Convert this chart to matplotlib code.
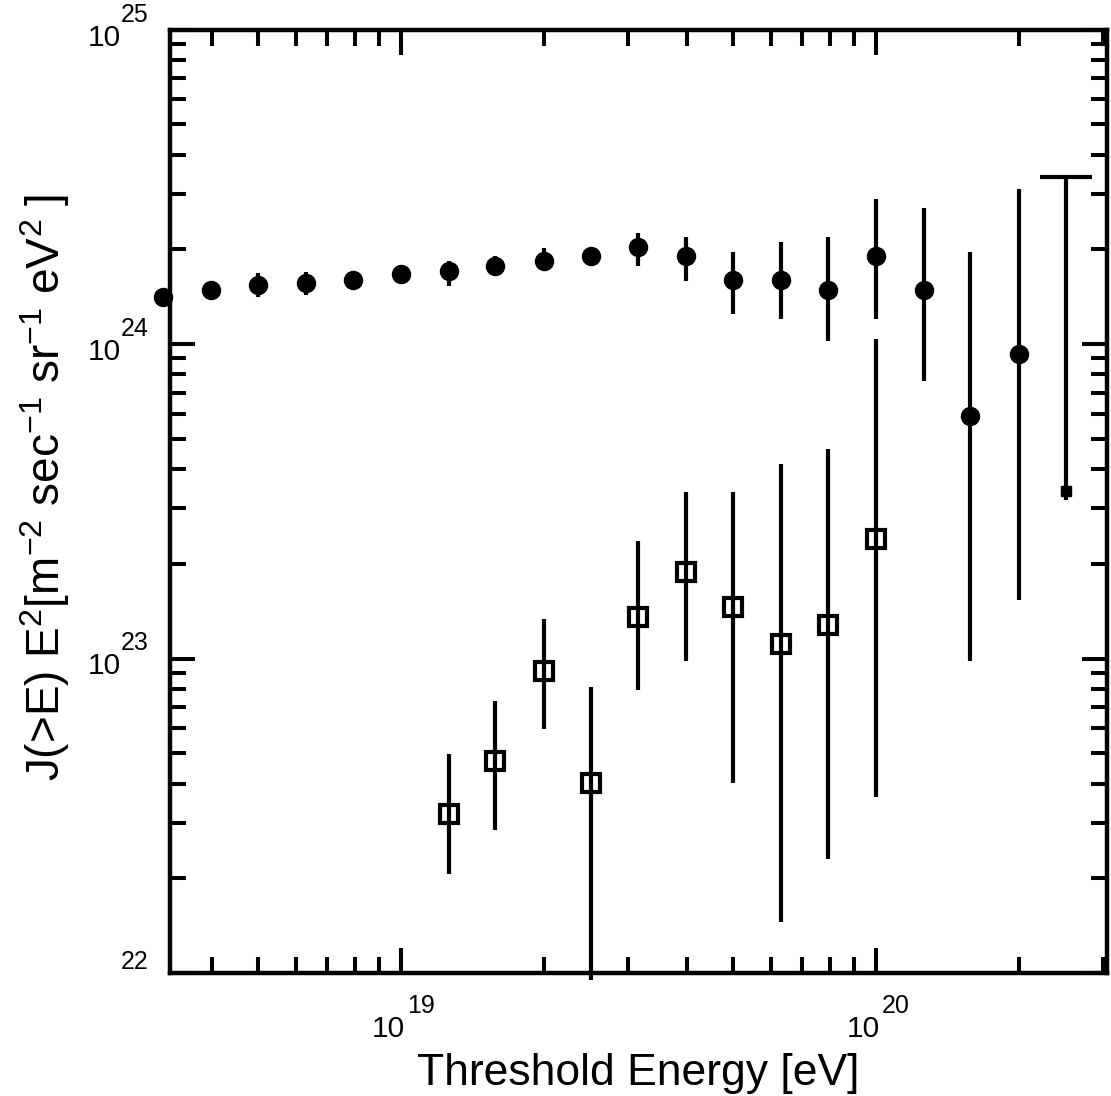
import numpy as np
import matplotlib
matplotlib.use("Agg")
import matplotlib.pyplot as plt
from matplotlib.ticker import LogLocator, NullFormatter

plt.rcParams["font.family"] = ["Liberation Sans", "DejaVu Sans"]
plt.rcParams["mathtext.default"] = "regular"

# Threshold energies [eV] of the integral-flux bins
energy = [3.16e18, 3.98e18, 5.01e18, 6.31e18, 7.94e18, 1.00e19, 1.26e19,
          1.58e19, 2.00e19, 2.51e19, 3.16e19, 3.98e19, 5.01e19, 6.31e19,
          7.94e19, 1.00e20, 1.26e20, 1.58e20, 2.00e20, 2.51e20]

# All events: J(>E) E^2 with lower / upper bounds
flux_all = [1.41e24, 1.48e24, 1.54e24, 1.56e24, 1.60e24, 1.67e24, 1.71e24,
            1.77e24, 1.83e24, 1.91e24, 2.03e24, 1.90e24, 1.60e24, 1.60e24,
            1.49e24, 1.90e24, 1.48e24, 5.90e23, 9.30e23, 3.40e23]
flux_all_lo = [1.36e24, 1.42e24, 1.41e24, 1.43e24, 1.53e24, 1.57e24, 1.53e24,
               1.65e24, 1.73e24, 1.79e24, 1.77e24, 1.59e24, 1.25e24, 1.20e24,
               1.02e24, 1.20e24, 7.60e23, 9.80e22, 1.54e23, 3.20e23]
flux_all_hi = [1.46e24, 1.54e24, 1.68e24, 1.70e24, 1.67e24, 1.78e24, 1.83e24,
               1.90e24, 2.02e24, 2.04e24, 2.26e24, 2.19e24, 1.96e24, 2.11e24,
               2.19e24, 2.90e24, 2.71e24, 1.96e24, 3.12e24, 3.40e24]

# Selected sub-sample
energy_sub = [1.26e19, 1.58e19, 2.00e19, 2.51e19, 3.16e19, 3.98e19, 5.01e19,
              6.31e19, 7.94e19, 1.00e20]
flux_sub = [3.21e22, 4.73e22, 9.11e22, 4.02e22, 1.36e23, 1.88e23, 1.46e23,
            1.11e23, 1.28e23, 2.39e23]
flux_sub_lo = [2.07e22, 2.84e22, 5.98e22, 9.5e21, 7.96e22, 9.80e22, 4.03e22,
               1.45e22, 2.31e22, 3.64e22]
flux_sub_hi = [4.98e22, 7.35e22, 1.34e23, 8.14e22, 2.36e23, 3.38e23, 3.38e23,
               4.15e23, 4.63e23, 1.04e24]

# Decade tick labels (base "10" and exponent drawn as separate texts)
x_decades = [19, 20]
y_decades = [22, 23, 24, 25]


def asym_err(vals, lo, hi):
    v = np.asarray(vals)
    return [v - np.asarray(lo), np.asarray(hi) - v]


fig = plt.figure(figsize=(11.11, 10.96), dpi=100)
ax = fig.add_axes([170 / 1111, 1 - 973 / 1096, 937 / 1111, 943.5 / 1096])
ax.set_xscale("log")
ax.set_yscale("log")
ax.set_xlim(3.265e18, 3.064e20)
ax.set_ylim(1e22, 1e25)

n = len(energy) - 1
ax.errorbar(energy[:n], flux_all[:n],
            yerr=asym_err(flux_all[:n], flux_all_lo[:n], flux_all_hi[:n]),
            fmt="o", color="black", ms=13, elinewidth=3, capsize=0,
            clip_on=False, zorder=3)

# highest-energy bin: small marker, capped upper bound
ax.errorbar(energy[n:], flux_all[n:],
            yerr=asym_err(flux_all[n:], flux_all_lo[n:], flux_all_hi[n:]),
            fmt="s", color="black", ms=7, elinewidth=3, capsize=0,
            clip_on=False, zorder=3)
ax.plot(energy[n:], flux_all_hi[n:], marker="_", ms=38, mew=3,
        color="black", linestyle="none", zorder=3)

ax.errorbar(energy_sub, flux_sub,
            yerr=asym_err(flux_sub, flux_sub_lo, flux_sub_hi),
            fmt="s", mfc="none", mec="black", ecolor="black", ms=13, mew=3,
            elinewidth=3, capsize=0, clip_on=False, zorder=3)

# axes styling
for s in ax.spines.values():
    s.set_linewidth(3.2)

ax.xaxis.set_major_locator(LogLocator(base=10, numticks=10))
ax.xaxis.set_minor_locator(LogLocator(base=10, subs=np.arange(2, 10), numticks=20))
ax.yaxis.set_major_locator(LogLocator(base=10, numticks=10))
ax.yaxis.set_minor_locator(LogLocator(base=10, subs=np.arange(2, 10), numticks=20))
for axis in (ax.xaxis, ax.yaxis):
    axis.set_major_formatter(NullFormatter())
    axis.set_minor_formatter(NullFormatter())

ax.tick_params(which="both", direction="in", top=True, right=True, width=2.9)
ax.tick_params(which="major", length=18)
ax.tick_params(which="minor", length=11.5)

lab_size = 21.5
exp_size = 18
xtr = ax.get_xaxis_transform()
ytr = ax.get_yaxis_transform()
for e in x_decades:
    ax.annotate("10", xy=(10.0 ** e, 0), xycoords=xtr, xytext=(4, -56),
                textcoords="offset pixels", ha="right", va="center",
                fontsize=lab_size, annotation_clip=False)
    ax.annotate(str(e), xy=(10.0 ** e, 0), xycoords=xtr, xytext=(6, -33),
                textcoords="offset pixels", ha="left", va="center",
                fontsize=exp_size, annotation_clip=False)
for e in y_decades:
    if e != 22:
        ax.annotate("10", xy=(0, 10.0 ** e), xycoords=ytr, xytext=(-49, -8),
                    textcoords="offset pixels", ha="right", va="center",
                    fontsize=lab_size, annotation_clip=False)
    ax.annotate(str(e), xy=(0, 10.0 ** e), xycoords=ytr,
                xytext=(-49, 15 if e != 22 else 11),
                textcoords="offset pixels", ha="left", va="center",
                fontsize=exp_size, annotation_clip=False)

ax.set_xlabel("Threshold Energy [eV]", fontsize=32, va="top")
ax.xaxis.set_label_coords(0.5, -0.085)
ax.set_ylabel(r"J(>E) E$^2$[m$^{-2}$ sec$^{-1}$ sr$^{-1}$ eV$^2$ ]", fontsize=33)
ax.yaxis.set_label_coords(-0.105, 0.515)

fig.savefig("out.png", dpi=100, facecolor="white")
